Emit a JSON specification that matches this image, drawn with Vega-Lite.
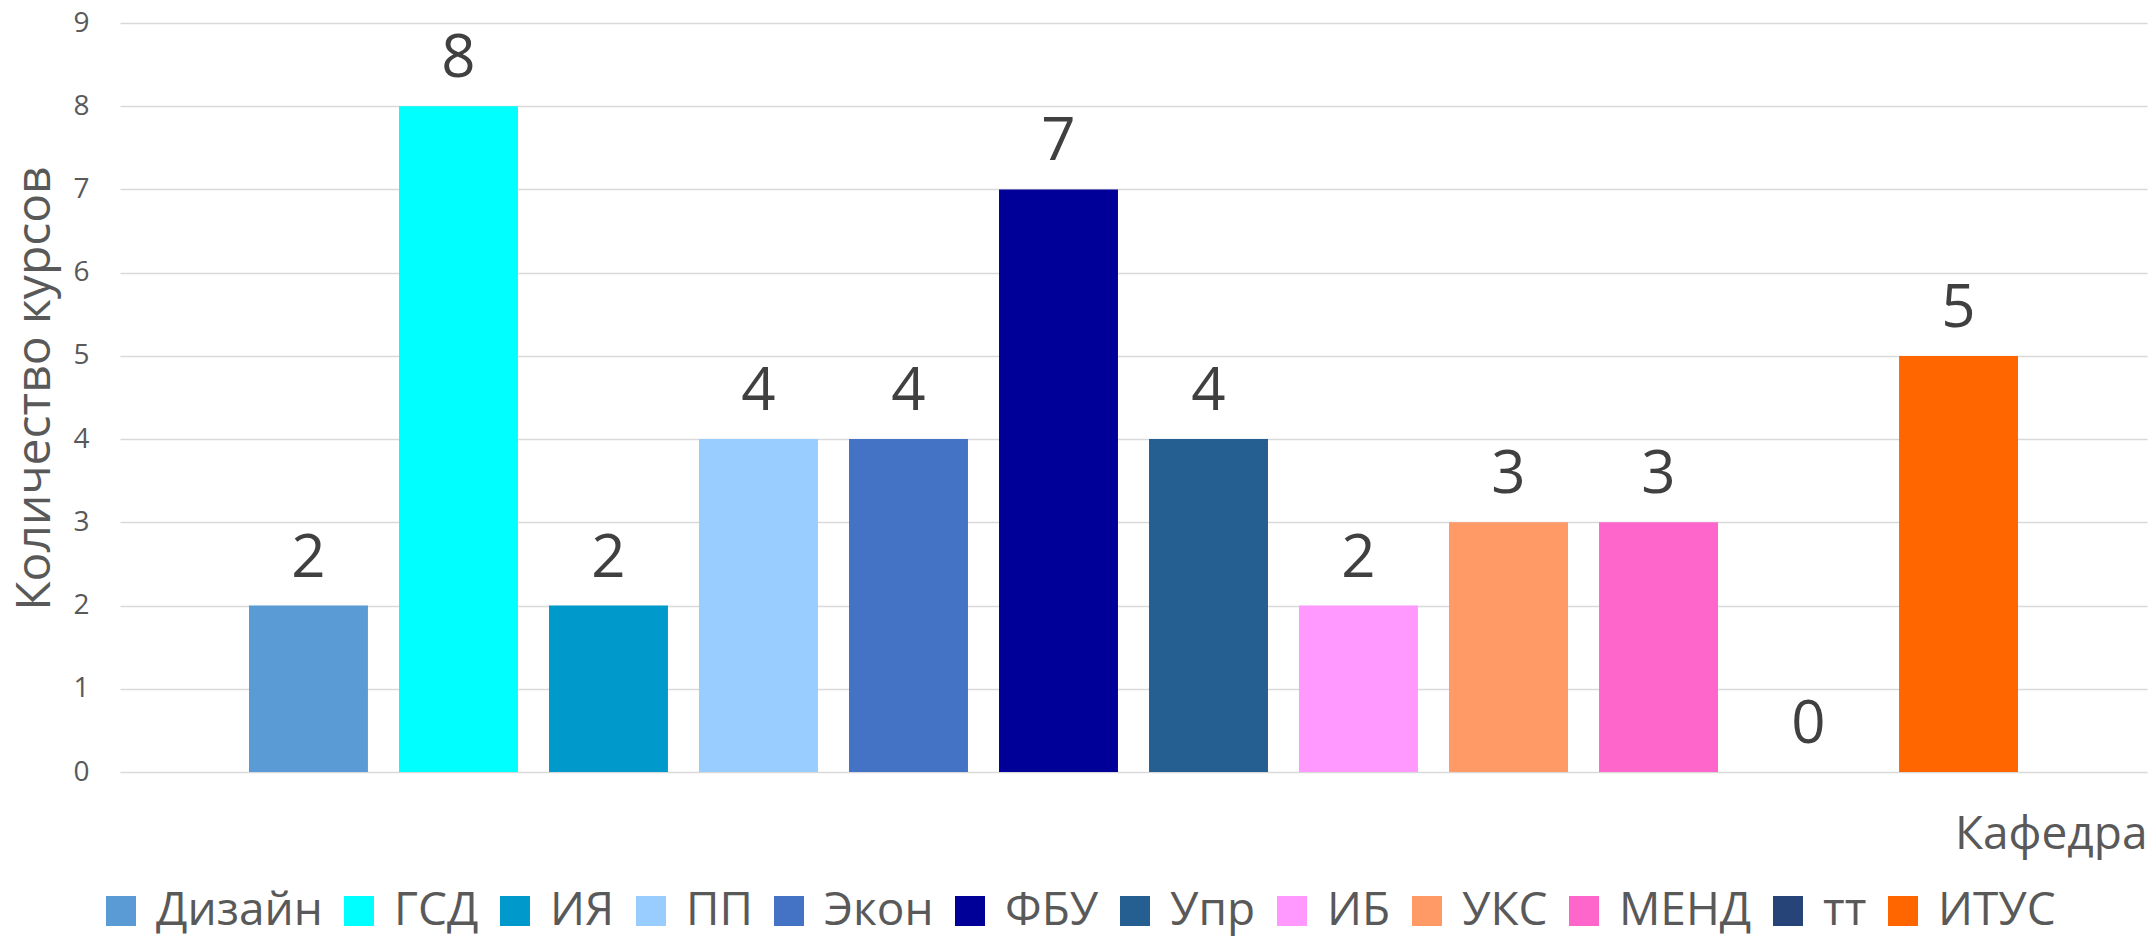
{
  "$schema": "https://vega.github.io/schema/vega-lite/v6.json",
  "width": 2027,
  "height": 749,
  "autosize": {"type": "none"},
  "padding": {"left": 120, "top": 23, "right": 6, "bottom": 166},
  "background": "white",
  "config": {"view": {"stroke": null}, "font": "Open Sans"},
  "data": {
    "values": [
      {"kafedra": "Дизайн", "count": 2},
      {"kafedra": "ГСД", "count": 8},
      {"kafedra": "ИЯ", "count": 2},
      {"kafedra": "ПП", "count": 4},
      {"kafedra": "Экон", "count": 4},
      {"kafedra": "ФБУ", "count": 7},
      {"kafedra": "Упр", "count": 4},
      {"kafedra": "ИБ", "count": 2},
      {"kafedra": "УКС", "count": 3},
      {"kafedra": "МЕНД", "count": 3},
      {"kafedra": "тт", "count": 0},
      {"kafedra": "ИТУС", "count": 5}
    ]
  },
  "encoding": {
    "x": {
      "field": "kafedra",
      "type": "nominal",
      "sort": null,
      "scale": {"paddingInner": 0.207, "paddingOuter": 0.86},
      "axis": {
        "title": "Кафедра",
        "labels": false,
        "ticks": false,
        "domain": false,
        "grid": false,
        "titleFontSize": 46,
        "titleFont": "Open Sans",
        "titleFontWeight": "normal",
        "titleColor": "#595959",
        "titleAnchor": "end",
        "titleAlign": "right",
        "titleX": 2027,
        "titleY": 76,
        "titleBaseline": "alphabetic"
      }
    },
    "y": {
      "field": "count",
      "type": "quantitative",
      "scale": {"domain": [0, 9], "nice": false},
      "axis": {
        "title": "Количество курсов",
        "values": [0, 1, 2, 3, 4, 5, 6, 7, 8, 9],
        "grid": true,
        "gridColor": "#d9d9d9",
        "gridWidth": 1.5,
        "domain": false,
        "ticks": false,
        "labelPadding": 31,
        "labelFontSize": 28,
        "labelColor": "#595959",
        "labelFont": "Open Sans",
        "titleFont": "Open Sans",
        "titleFontSize": 48,
        "titleFontWeight": "normal",
        "titleColor": "#595959",
        "titleX": -71,
        "titleY": 365,
        "titleAngle": -90,
        "titleBaseline": "alphabetic",
        "titleAlign": "center"
      }
    }
  },
  "layer": [
    {
      "mark": {"type": "bar"},
      "encoding": {
        "color": {
          "field": "kafedra",
          "type": "nominal",
          "sort": null,
          "scale": {
            "domain": ["Дизайн", "ГСД", "ИЯ", "ПП", "Экон", "ФБУ", "Упр", "ИБ", "УКС", "МЕНД", "тт", "ИТУС"],
            "range": ["#5B9BD5", "#00FFFF", "#0099CC", "#99CCFF", "#4472C4", "#000099", "#255E91", "#FF99FF", "#FF9966", "#FF66CC", "#264478", "#FF6600"]
          },
          "legend": {
            "orient": "none",
            "legendX": -22,
            "legendY": 865,
            "direction": "horizontal",
            "columns": 12,
            "title": null,
            "symbolType": "square",
            "symbolSize": 900,
            "symbolStrokeWidth": 0,
            "labelFontSize": 46,
            "labelFont": "Open Sans",
            "labelColor": "#595959",
            "labelOffset": 12,
            "columnPadding": 13,
            "labelLimit": 0
          }
        }
      }
    },
    {
      "mark": {"type": "text", "dy": -29, "baseline": "alphabetic", "fontSize": 60, "color": "#404040", "font": "Open Sans"},
      "encoding": {"text": {"field": "count", "type": "quantitative"}}
    }
  ]
}
